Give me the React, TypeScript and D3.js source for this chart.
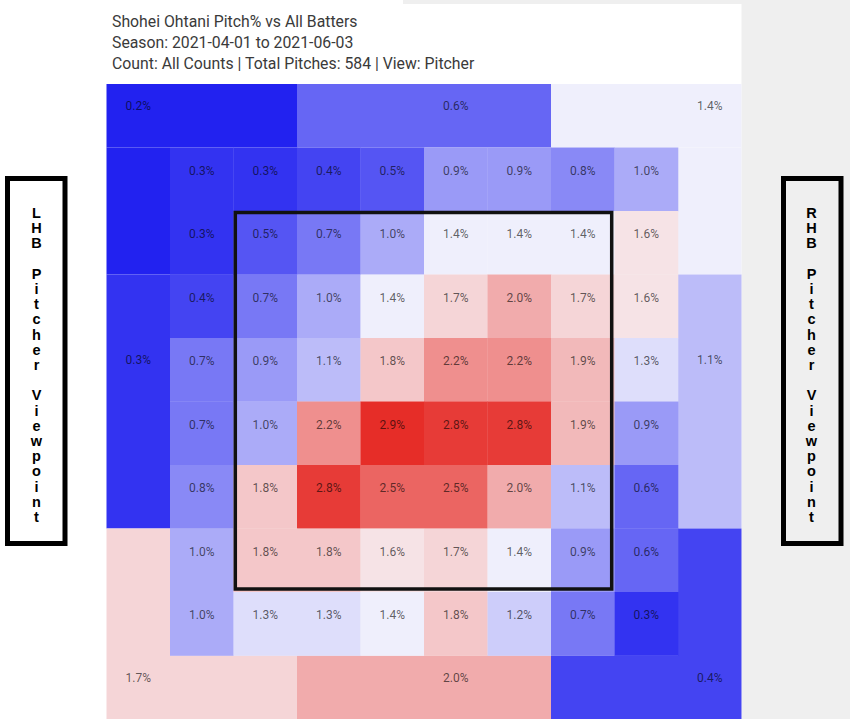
import React from 'react';
import * as d3 from 'd3';

const titleLines = [
  'Shohei Ohtani Pitch% vs All Batters',
  'Season: 2021-04-01 to 2021-06-03',
  'Count: All Counts | Total Pitches: 584 | View: Pitcher',
];

// 8x8 inner grid (rows top -> bottom, cols left -> right), pitch %
const innerRow1 = [0.3, 0.3, 0.4, 0.5, 0.9, 0.9, 0.8, 1.0];
const innerRow2 = [0.3, 0.5, 0.7, 1.0, 1.4, 1.4, 1.4, 1.6];
const innerRow3 = [0.4, 0.7, 1.0, 1.4, 1.7, 2.0, 1.7, 1.6];
const innerRow4 = [0.7, 0.9, 1.1, 1.8, 2.2, 2.2, 1.9, 1.3];
const innerRow5 = [0.7, 1.0, 2.2, 2.9, 2.8, 2.8, 1.9, 0.9];
const innerRow6 = [0.8, 1.8, 2.8, 2.5, 2.5, 2.0, 1.1, 0.6];
const innerRow7 = [1.0, 1.8, 1.8, 1.6, 1.7, 1.4, 0.9, 0.6];
const innerRow8 = [1.0, 1.3, 1.3, 1.4, 1.8, 1.2, 0.7, 0.3];
const innerRows = [innerRow1, innerRow2, innerRow3, innerRow4, innerRow5, innerRow6, innerRow7, innerRow8];

// outer zones: top-left, top, top-right, left, right, bottom-left, bottom, bottom-right
const outerValues = [0.2, 0.6, 1.4, 0.3, 1.1, 1.7, 2.0, 0.4];
// zone pieces as [rowStart, rowEnd, colStart, colEnd] in the 10x10 grid
const outerPieces = [
  [[0, 0, 0, 2], [1, 2, 0, 0]],
  [[0, 0, 3, 6]],
  [[0, 0, 7, 9], [1, 2, 9, 9]],
  [[3, 6, 0, 0]],
  [[3, 6, 9, 9]],
  [[7, 9, 0, 0], [9, 9, 1, 2]],
  [[9, 9, 3, 6]],
  [[7, 9, 9, 9], [9, 9, 7, 8]],
];
const outerLabelCells = [[0, 0], [0, 5], [0, 9], [4, 0], [4, 9], [9, 0], [9, 5], [9, 9]];

const sideLabels = ['LHB Pitcher Viewpoint', 'RHB Pitcher Viewpoint'];

const idx = d3.range(10);

export default function App() {
  const x = d3.scaleBand<number>().domain(idx).range([106.5, 741.5]).paddingInner(0);
  const y = d3.scaleBand<number>().domain(idx).range([84, 719]).paddingInner(0);
  const bw = x.bandwidth();
  const bh = y.bandwidth();
  const color = d3
    .scaleLinear<string>()
    .domain([0.2, 1.45, 2.9])
    .range(['#2222f0', '#f8f8fc', '#e62d28'])
    .clamp(true);
  const fmt = (v: number) => d3.format('.1f')(v) + '%';

  const labelStyle = {
    fontFamily: 'Roboto, sans-serif',
    fontSize: 12,
    fill: '#000',
    fillOpacity: 0.62,
    textAnchor: 'middle' as const,
  };

  const zx0 = x(2)!;
  const zx1 = x(7)! + bw;
  const zy0 = y(2)!;
  const zy1 = y(7)! + bh;

  const sideBoxes = [
    { x0: 7.5, cx: 36.5, text: sideLabels[0] },
    { x0: 783.5, cx: 811.5, text: sideLabels[1] },
  ];

  return (
    <svg
      width={850}
      height={719}
      style={{ position: 'absolute', left: 0, top: 0, display: 'block' }}
    >
      <rect x={0} y={0} width={850} height={719} fill="#ffffff" />
      <rect x={741.5} y={0} width={108.5} height={719} fill="#efefef" />
      <rect x={403} y={0} width={447} height={4} fill="#efefef" />

      {titleLines.map((t, i) => (
        <text
          key={i}
          x={112}
          y={26.5 + i * 21}
          style={{ fontFamily: 'Roboto, sans-serif', fontSize: 15.8, fill: '#3a3a3a' }}
        >
          {t}
        </text>
      ))}

      {outerPieces.map((pieces, z) =>
        pieces.map((p, k) => (
          <rect
            key={`o${z}-${k}`}
            x={x(p[2])!}
            y={y(p[0])!}
            width={x(p[3])! + bw - x(p[2])!}
            height={y(p[1])! + bh - y(p[0])!}
            fill={color(outerValues[z])}
          />
        ))
      )}

      {innerRows.map((row, r) =>
        row.map((v, c) => (
          <rect
            key={`i${r}-${c}`}
            x={x(c + 1)!}
            y={y(r + 1)!}
            width={bw + 0.3}
            height={bh + 0.3}
            fill={color(v)}
          />
        ))
      )}

      {innerRows.map((row, r) =>
        row.map((v, c) => (
          <text key={`t${r}-${c}`} x={x(c + 1)! + bw / 2} y={y(r + 1)! + 27} style={labelStyle}>
            {fmt(v)}
          </text>
        ))
      )}

      {outerValues.map((v, z) => (
        <text
          key={`ot${z}`}
          x={x(outerLabelCells[z][1])! + bw / 2}
          y={y(outerLabelCells[z][0])! + 26}
          style={labelStyle}
        >
          {fmt(v)}
        </text>
      ))}

      <rect
        x={zx0 + 1.8}
        y={zy0 + 1.5}
        width={zx1 - zx0 - 4.6}
        height={zy1 - zy0 - 4.5}
        fill="none"
        stroke="#111"
        strokeWidth={3.5}
      />

      {sideBoxes.map((b, i) => (
        <g key={`sb${i}`}>
          <rect x={b.x0} y={178.5} width={57.5} height={365} fill="none" stroke="#000" strokeWidth={5} />
          {b.text.split('').map((ch, j) =>
            ch === ' ' ? null : (
              <text
                key={j}
                x={b.cx}
                y={213 + j * 15.2}
                dominantBaseline="central"
                textAnchor="middle"
                style={{ fontFamily: '"Liberation Sans", Arial, sans-serif', fontSize: 14.5, fontWeight: 'bold', fill: '#000' }}
              >
                {ch}
              </text>
            )
          )}
        </g>
      ))}
    </svg>
  );
}
